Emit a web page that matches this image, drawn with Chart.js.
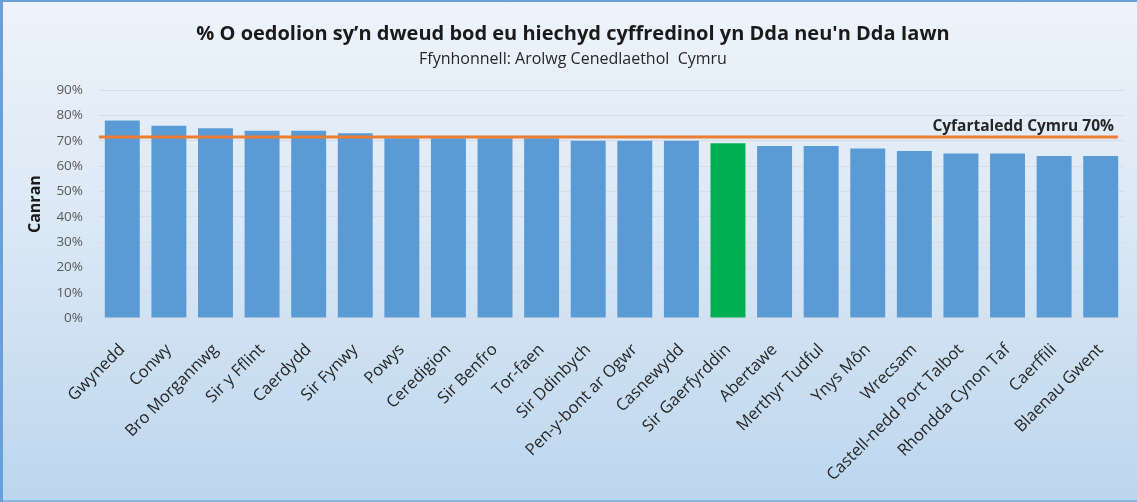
<!DOCTYPE html>
<html>
<head>
<meta charset="utf-8">
<script src="https://cdn.jsdelivr.net/npm/chart.js@4"></script>
<style>
    body { margin: 0; }
    #wrap {
        position: relative;
        width: 1137px;
        height: 502px;
        background: linear-gradient(to bottom, #edf3fa 0%, #dbe8f5 45%, #bcd6ee 100%);
        box-shadow: inset 3px 2px 0 0 #6a9fd8, inset 0 -2px 0 0 #8ab6e2;
    }
    #chart { position: absolute; left: 0; top: 0; }
</style>
</head>
<body>
<div id="wrap">
    <canvas id="chart" width="1137" height="502"></canvas>
</div>
<script>
const areas = ['Gwynedd', 'Conwy', 'Bro Morgannwg', 'Sir y Fflint', 'Caerdydd', 'Sir Fynwy', 'Powys',
    'Ceredigion', 'Sir Benfro', 'Tor-faen', 'Sir Ddinbych', 'Pen-y-bont ar Ogwr', 'Casnewydd',
    'Sir Gaerfyrddin', 'Abertawe', 'Merthyr Tudful', 'Ynys Môn', 'Wrecsam', 'Castell-nedd Port Talbot',
    'Rhondda Cynon Taf', 'Caerffili', 'Blaenau Gwent'];
const goodHealth = [78, 76, 75, 74, 74, 73, 71, 71, 71, 71, 70, 70, 70, 69, 68, 68, 67, 66, 65, 65, 64, 64];
const highlightArea = 'Sir Gaerfyrddin';
const walesAverage = 71.5;
const averageLabel = 'Cyfartaledd Cymru 70%';
const yTicks = [0, 10, 20, 30, 40, 50, 60, 70, 80, 90];

const barColours = areas.map(a => a === highlightArea ? '#00b050' : '#5b9bd5');

// label for the average line, placed with the chart's own scales
const averageLabelPlugin = {
    id: 'averageLabel',
    afterDatasetsDraw(chart) {
        const { ctx, chartArea, scales } = chart;
        const y = scales.y.getPixelForValue(walesAverage);
        ctx.save();
        ctx.font = 'bold 15.5px "Open Sans"';
        ctx.fillStyle = '#262626';
        ctx.textAlign = 'right';
        ctx.textBaseline = 'bottom';
        ctx.fillText(averageLabel, chartArea.right - 10, y - 3);
        ctx.restore();
    }
};

new Chart(document.getElementById('chart'), {
    type: 'bar',
    data: {
        labels: areas,
        datasets: [{
            data: goodHealth,
            backgroundColor: barColours,
            categoryPercentage: 0.75,
            barPercentage: 1.0,
            grouped: false,
            order: 2
        }, {
            type: 'line',
            data: [{ x: 0, y: walesAverage }, { x: 0.994, y: walesAverage }],
            xAxisID: 'x2',
            borderColor: '#ed7d31',
            borderWidth: 3,
            pointRadius: 0,
            order: 1
        }]
    },
    options: {
        responsive: false,
        animation: false,
        layout: { padding: { left: 22, right: 13, top: 0, bottom: 0 } },
        plugins: {
            legend: { display: false },
            tooltip: { enabled: false },
            title: {
                display: true,
                text: '% O oedolion sy\u2019n dweud bod eu hiechyd cyffredinol yn Dda neu\'n Dda Iawn',
                font: { family: 'Open Sans', size: 20, weight: 'bold' },
                color: '#1a1a1a',
                padding: { top: 22, bottom: 4 }
            },
            subtitle: {
                display: true,
                text: 'Ffynhonnell: Arolwg Cenedlaethol  Cymru',
                font: { family: 'Open Sans', size: 16 },
                color: '#262626',
                padding: { top: 0, bottom: 21 }
            }
        },
        scales: {
            x: {
                grid: { display: false },
                border: { display: false },
                ticks: {
                    autoSkip: false,
                    minRotation: 45,
                    maxRotation: 45,
                    padding: 14,
                    color: '#262626',
                    font: { family: 'Open Sans', size: 16.5 }
                },
                afterFit(scale) { scale.height = 184; }
            },
            x2: {
                type: 'linear',
                display: false,
                offset: false,
                min: 0,
                max: 1
            },
            y: {
                min: 0,
                max: 90,
                afterBuildTicks(scale) { scale.ticks = yTicks.map(v => ({ value: v })); },
                grid: { color: '#d6dde6', drawTicks: false },
                border: { display: false },
                ticks: {
                    padding: 16,
                    color: '#595959',
                    font: { family: 'Open Sans', size: 13.5 },
                    callback: v => v + '%'
                },
                title: {
                    display: true,
                    text: 'Canran',
                    color: '#1a1a1a',
                    padding: { top: 4, bottom: 4 },
                    font: { family: 'Open Sans', size: 16, weight: 'bold' }
                },
                afterFit(scale) { scale.width = 77; }
            }
        }
    },
    plugins: [averageLabelPlugin]
});
</script>
</body>
</html>
